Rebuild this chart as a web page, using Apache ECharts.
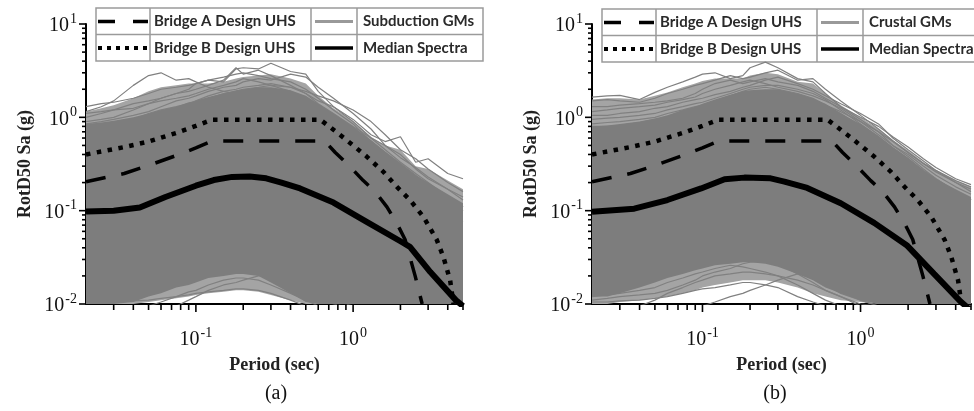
<!DOCTYPE html>
<html>
<head>
<meta charset="utf-8">
<script src="https://cdn.jsdelivr.net/npm/echarts@6/dist/echarts.min.js"></script>
<style>
  html, body { margin: 0; padding: 0; background: #fff; }
  #chart { width: 974px; height: 411px; }
</style>
</head>
<body>
<div id="chart"></div>
<script>
// ---- data ----
const periodGrid = [0.02, 0.025, 0.03, 0.04, 0.05, 0.06, 0.075, 0.09, 0.1, 0.12, 0.15, 0.18, 0.2, 0.25, 0.3, 0.4, 0.5, 0.6, 0.75, 1, 1.3, 1.6, 2, 2.5, 3, 4, 5];

// (a) subduction records: dense core, looser fringe, individual outer records
const subCoreUpper = [0.85, 0.88, 0.92, 1.0, 1.1, 1.2, 1.3, 1.45, 1.5, 1.65, 1.8, 1.95, 2.0, 2.1, 2.1, 1.95, 1.7, 1.4, 1.1, 0.8, 0.57, 0.43, 0.32, 0.24, 0.2, 0.15, 0.12];
const subCoreLower = [0.01, 0.01, 0.01, 0.0105, 0.012, 0.013, 0.015, 0.016, 0.017, 0.019, 0.02, 0.021, 0.021, 0.02, 0.017, 0.013, 0.0105, 0.01, 0.01, 0.01, 0.01, 0.01, 0.01, 0.01, 0.01, 0.01, 0.01];
const subFringeUpper = [1.15, 1.25, 1.35, 1.6, 1.9, 2.1, 2.2, 2.3, 2.3, 2.3, 2.4, 2.6, 2.7, 2.8, 2.9, 2.6, 2.3, 1.7, 1.25, 0.92, 0.62, 0.5, 0.45, 0.3, 0.28, 0.21, 0.17];
const subFringeLower = [0.01, 0.01, 0.01, 0.01, 0.0105, 0.011, 0.0115, 0.012, 0.0125, 0.013, 0.0135, 0.014, 0.014, 0.0135, 0.0125, 0.011, 0.01, 0.01, 0.01, 0.01, 0.01, 0.01, 0.01, 0.01, 0.01, 0.01, 0.01];
const subUpperRecords = [
  [1.15, 1.3, 1.5, 2.2, 2.8, 3.0, 2.5, 2.6, 2.4, 2.1, 1.9, 1.8, 1.7, 1.5, 1.4, 1.2, 1.0, 0.85, 0.7, 0.5, 0.35, 0.27, 0.2, 0.15, 0.12, 0.09, 0.075],
  [0.9, 0.95, 1.0, 1.2, 1.4, 1.6, 1.8, 2.0, 2.3, 2.5, 2.4, 3.3, 3.4, 3.3, 3.8, 3.1, 2.9, 1.9, 1.3, 0.9, 0.6, 0.45, 0.33, 0.25, 0.2, 0.14, 0.11],
  [0.7, 0.75, 0.8, 0.9, 1.0, 1.1, 1.2, 1.35, 1.5, 1.7, 1.9, 2.0, 2.1, 2.2, 2.3, 2.1, 1.8, 1.5, 1.3, 0.95, 0.65, 0.55, 0.62, 0.33, 0.36, 0.25, 0.22],
  [1.3, 1.4, 1.45, 1.6, 1.8, 2.0, 2.1, 2.2, 2.3, 2.5, 2.7, 2.9, 3.0, 2.8, 2.6, 2.4, 2.0, 1.6, 1.2, 0.85, 0.55, 0.42, 0.32, 0.24, 0.19, 0.14, 0.11],
  [1.0, 1.1, 1.2, 1.4, 1.5, 1.6, 1.8, 1.9, 2.0, 2.2, 2.5, 3.4, 2.9, 3.2, 2.8, 2.2, 1.8, 1.4, 1.1, 0.8, 0.6, 0.5, 0.4, 0.28, 0.22, 0.17, 0.13],
  [0.85, 0.9, 0.95, 1.05, 1.15, 1.3, 1.5, 1.6, 1.7, 1.9, 2.1, 2.2, 2.4, 2.6, 2.5, 2.9, 2.7, 2.1, 1.6, 1.1, 0.75, 0.5, 0.37, 0.29, 0.23, 0.17, 0.14],
  [0.8, 0.82, 0.85, 0.95, 1.1, 1.2, 1.3, 1.4, 1.5, 1.6, 1.8, 1.9, 2.0, 2.1, 2.2, 2.1, 1.9, 1.7, 1.5, 1.2, 0.9, 0.65, 0.45, 0.36, 0.28, 0.2, 0.16],
  [1.1, 1.15, 1.2, 1.25, 1.4, 1.5, 1.6, 1.7, 1.8, 2.0, 2.2, 2.4, 2.6, 2.4, 2.2, 1.9, 1.6, 1.3, 1.05, 0.75, 0.5, 0.38, 0.3, 0.22, 0.18, 0.13, 0.1]
];
const subLowerRecords = [
  [0.0105, 0.0105, 0.0105, 0.0108, 0.011, 0.0115, 0.012, 0.0125, 0.013, 0.0135, 0.014, 0.0145, 0.0145, 0.014, 0.013, 0.011, 0.0095],
  [null, null, null, null, 0.0095, 0.0105, 0.012, 0.0135, 0.014, 0.016, 0.018, 0.019, 0.019, 0.018, 0.016, 0.013, 0.011, 0.0095],
  [0.013, 0.013, 0.0135, 0.014, 0.015, 0.016, 0.018, 0.019, 0.02, 0.021, 0.022, 0.024, 0.025, 0.024, 0.022, 0.018, 0.014, 0.012, 0.01, 0.009],
  [null, null, null, null, null, null, 0.0095, 0.011, 0.012, 0.014, 0.016, 0.017, 0.018, 0.02, 0.021, 0.019, 0.016, 0.013, 0.011, 0.0095]
];
const subMedianPeriod = [0.02, 0.03, 0.044, 0.064, 0.1, 0.13, 0.17, 0.22, 0.28, 0.35, 0.46, 0.75, 1.22, 2, 2.3, 3.1, 4.5, 5];
const subMedianSa = [0.098, 0.1, 0.108, 0.14, 0.185, 0.213, 0.23, 0.232, 0.222, 0.2, 0.173, 0.122, 0.076, 0.047, 0.041, 0.022, 0.011, 0.0095];

// (b) crustal records
const crsCoreUpper = [0.8, 0.82, 0.85, 0.9, 0.97, 1.05, 1.2, 1.3, 1.4, 1.55, 1.75, 1.9, 1.95, 2.0, 2.0, 1.8, 1.6, 1.4, 1.1, 0.85, 0.63, 0.48, 0.37, 0.27, 0.22, 0.17, 0.14];
const crsCoreLower = [0.012, 0.012, 0.013, 0.015, 0.017, 0.019, 0.021, 0.023, 0.024, 0.026, 0.027, 0.028, 0.028, 0.027, 0.025, 0.021, 0.018, 0.015, 0.013, 0.011, 0.01, 0.01, 0.01, 0.01, 0.01, 0.01, 0.01];
const crsFringeUpper = [1.55, 1.6, 1.6, 1.55, 1.7, 1.85, 2.1, 2.3, 2.45, 2.6, 2.6, 2.6, 2.8, 3.0, 2.9, 2.4, 2.3, 1.8, 1.35, 1.0, 0.75, 0.57, 0.44, 0.33, 0.27, 0.21, 0.18];
const crsFringeLower = [0.01, 0.01, 0.0105, 0.011, 0.0115, 0.012, 0.013, 0.014, 0.015, 0.016, 0.017, 0.018, 0.018, 0.018, 0.017, 0.015, 0.013, 0.012, 0.011, 0.0105, 0.01, 0.01, 0.01, 0.01, 0.01, 0.01, 0.01];
const crsUpperRecords = [
  [1.65, 1.7, 1.72, 1.55, 1.85, 2.1, 2.4, 2.7, 2.9, 3.0, 2.6, 2.8, 3.4, 3.9, 3.4, 2.6, 2.4, 1.8, 1.3, 0.95, 0.7, 0.5, 0.38, 0.28, 0.22, 0.16, 0.13],
  [1.5, 1.55, 1.5, 1.45, 1.6, 1.8, 2.0, 2.2, 2.3, 2.5, 2.8, 2.6, 2.7, 3.0, 3.2, 2.5, 2.6, 2.0, 1.5, 1.05, 0.75, 0.56, 0.42, 0.32, 0.27, 0.21, 0.18],
  [1.3, 1.3, 1.35, 1.4, 1.45, 1.5, 1.6, 1.8, 2.0, 2.3, 2.5, 2.3, 2.4, 2.6, 2.4, 2.2, 1.9, 1.6, 1.3, 1.0, 0.8, 0.62, 0.48, 0.36, 0.29, 0.22, 0.19],
  [1.15, 1.2, 1.25, 1.3, 1.35, 1.45, 1.55, 1.65, 1.8, 2.0, 2.2, 2.4, 2.5, 2.3, 2.1, 1.9, 1.7, 1.5, 1.25, 0.9, 0.65, 0.5, 0.4, 0.3, 0.24, 0.18, 0.15],
  [1.05, 1.05, 1.1, 1.15, 1.25, 1.3, 1.45, 1.55, 1.6, 1.75, 1.9, 2.1, 2.2, 2.5, 2.7, 2.3, 2.0, 1.7, 1.4, 1.1, 0.85, 0.6, 0.45, 0.34, 0.27, 0.2, 0.16],
  [0.95, 0.98, 1.0, 1.05, 1.1, 1.2, 1.3, 1.4, 1.45, 1.6, 1.8, 2.0, 2.1, 2.2, 2.2, 2.0, 1.8, 1.55, 1.2, 0.85, 0.62, 0.47, 0.36, 0.27, 0.22, 0.16, 0.13],
  [0.85, 0.88, 0.9, 0.95, 1.0, 1.1, 1.2, 1.3, 1.35, 1.5, 1.7, 1.9, 2.0, 2.1, 2.0, 1.8, 1.6, 1.35, 1.1, 0.8, 0.58, 0.44, 0.33, 0.26, 0.21, 0.16, 0.13],
  [0.8, 0.8, 0.82, 0.88, 0.95, 1.0, 1.1, 1.2, 1.25, 1.4, 1.55, 1.7, 1.8, 1.9, 1.9, 1.75, 1.55, 1.35, 1.15, 0.9, 0.7, 0.55, 0.42, 0.32, 0.26, 0.2, 0.17]
];
const crsLowerRecords = [
  [0.0105, 0.0105, 0.0108, 0.011, 0.0115, 0.012, 0.013, 0.014, 0.0145, 0.015, 0.016, 0.017, 0.017, 0.016, 0.015, 0.012, 0.0105, 0.0095],
  [0.012, 0.0125, 0.013, 0.014, 0.015, 0.017, 0.019, 0.021, 0.022, 0.024, 0.026, 0.025, 0.024, 0.022, 0.02, 0.016, 0.013, 0.011, 0.0095],
  [0.011, 0.0115, 0.012, 0.0125, 0.013, 0.014, 0.016, 0.018, 0.02, 0.022, 0.024, 0.027, 0.028, 0.029, 0.027, 0.021, 0.017, 0.014, 0.012, 0.0095],
  [null, null, null, 0.0095, 0.011, 0.013, 0.015, 0.017, 0.018, 0.02, 0.021, 0.022, 0.022, 0.021, 0.02, 0.018, 0.016, 0.014, 0.012, 0.01, 0.0095],
  [null, null, null, null, null, null, null, null, 0.0095, 0.0105, 0.012, 0.013, 0.014, 0.016, 0.018, 0.021, 0.019, 0.016, 0.013, 0.011, 0.0095],
  [0.014, 0.014, 0.015, 0.016, 0.018, 0.02, 0.023, 0.025, 0.027, 0.029, 0.031, 0.033, 0.033, 0.031, 0.028, 0.024, 0.02, 0.017, 0.014, 0.011, 0.0095]
];
const crsMedianPeriod = [0.02, 0.037, 0.06, 0.098, 0.138, 0.184, 0.27, 0.33, 0.46, 0.75, 1.22, 1.98, 2.92, 4.3, 5];
const crsMedianSa = [0.0975, 0.105, 0.13, 0.173, 0.217, 0.226, 0.222, 0.205, 0.175, 0.12, 0.074, 0.042, 0.021, 0.0106, 0.0085];

// design spectra (same for both panels)
const bridgeAPeriod = [0.02, 0.035, 0.05, 0.075, 0.1, 0.126, 0.66, 0.77, 0.93, 1.16, 1.38, 1.64, 1.9, 2.14, 2.48, 2.75];
const bridgeASa = [0.204, 0.25, 0.305, 0.39, 0.47, 0.557, 0.557, 0.42, 0.31, 0.21, 0.16, 0.11, 0.073, 0.049, 0.02, 0.01];
const bridgeBPeriod = [0.02, 0.035, 0.05, 0.075, 0.1, 0.126, 0.62, 0.71, 0.91, 1.22, 1.56, 1.9, 2.3, 2.8, 3.4, 3.75, 4.14, 4.35];
const bridgeBSa = [0.40, 0.48, 0.55, 0.68, 0.81, 0.94, 0.94, 0.79, 0.57, 0.38, 0.26, 0.18, 0.13, 0.086, 0.049, 0.032, 0.018, 0.01];

// axis ticks
const xMajorTicks = [0.1, 1];
const xMinorTicks = [0.03, 0.04, 0.05, 0.06, 0.07, 0.08, 0.09, 0.2, 0.3, 0.4, 0.5, 0.6, 0.7, 0.8, 0.9, 2, 3, 4, 5];
const yMajorTicks = [0.01, 0.1, 1, 10];
const yMinorTicks = [0.02, 0.03, 0.04, 0.05, 0.06, 0.07, 0.08, 0.09, 0.2, 0.3, 0.4, 0.5, 0.6, 0.7, 0.8, 0.9, 2, 3, 4, 5, 6, 7, 8, 9];

const legendA = ['Bridge A Design UHS', 'Bridge B Design UHS', 'Subduction GMs', 'Median Spectra'];
const legendB = ['Bridge A Design UHS', 'Bridge B Design UHS', 'Crustal GMs', 'Median Spectra'];
const panelTags = ['(a)', '(b)'];

// ---- chart ----
const X_MIN = 0.02, X_MAX = 5, Y_MIN = 0.01, Y_MAX = 10;
const GM_CORE = '#7d7d7d', GM_FRINGE = '#a4a4a4', GM_LINE = '#808080';
const SERIF = '"Liberation Serif", "DejaVu Serif", serif';

const chart = echarts.init(document.getElementById('chart'));

function pairs(xs, ys) {
    return xs.map((x, i) => [x, ys[i]]).filter(p => p[1] != null);
}

function bandSeries(i, upper, lower, color, z) {
    return {
        type: 'custom', xAxisIndex: i, yAxisIndex: i, silent: true, z: z,
        data: [[periodGrid[0], lower[0]]],
        renderItem: (params, api) => {
            const top = periodGrid.map((t, k) => api.coord([t, upper[k]]));
            const bot = periodGrid.map((t, k) => api.coord([t, lower[k]])).reverse();
            return { type: 'polygon', shape: { points: top.concat(bot) }, style: { fill: color } };
        }
    };
}

function recordSeries(i, vals, z) {
    return {
        type: 'line', xAxisIndex: i, yAxisIndex: i, silent: true, z: z,
        data: pairs(periodGrid, vals), showSymbol: false, clip: true,
        lineStyle: { color: GM_LINE, width: 1.2 }
    };
}

function tickSeries(i, values, axis, len) {
    return {
        type: 'custom', xAxisIndex: i, yAxisIndex: i, silent: true, clip: false, z: 20,
        data: values.map(v => axis === 'x' ? [v, Y_MIN] : [X_MIN, v]),
        renderItem: (params, api) => {
            const p = api.coord([api.value(0), api.value(1)]);
            const shape = axis === 'x'
                ? { x1: p[0], y1: p[1], x2: p[0], y2: p[1] + len }
                : { x1: p[0] - len, y1: p[1], x2: p[0], y2: p[1] };
            return { type: 'line', shape, style: { stroke: '#000', lineWidth: 1.6 } };
        }
    };
}

function panelSeries(i, d) {
    const s = [
        bandSeries(i, d.fringeUpper, d.fringeLower, GM_FRINGE, 1),
        bandSeries(i, d.upper, d.lower, GM_CORE, 3)
    ];
    d.upperRecs.forEach(r => s.push(recordSeries(i, r, 2)));
    d.lowerRecs.forEach(r => s.push(recordSeries(i, r, 2)));
    s.push({
        type: 'line', xAxisIndex: i, yAxisIndex: i, silent: true, z: 5, showSymbol: false,
        data: pairs(bridgeBPeriod, bridgeBSa),
        lineStyle: { color: '#000', width: 4.5, type: [4.5, 6.5] }
    });
    s.push({
        type: 'line', xAxisIndex: i, yAxisIndex: i, silent: true, z: 5, showSymbol: false,
        data: pairs(bridgeAPeriod, bridgeASa),
        lineStyle: { color: '#000', width: 3.5, type: [20, 16] }
    });
    s.push({
        type: 'line', xAxisIndex: i, yAxisIndex: i, silent: true, z: 6, showSymbol: false,
        data: pairs(d.medT, d.medSa),
        lineStyle: { color: '#000', width: 6 }
    });
    s.push(tickSeries(i, xMajorTicks, 'x', 8));
    s.push(tickSeries(i, xMinorTicks, 'x', 6));
    s.push(tickSeries(i, yMajorTicks, 'y', 7));
    s.push(tickSeries(i, yMinorTicks, 'y', 4));
    return s;
}

const powLabel = v => {
    const e = Math.log10(v);
    if (Math.abs(e - Math.round(e)) > 1e-6) return '';
    return '{b|10}{s|' + Math.round(e) + '}';
};
const labelRich = {
    b: { fontFamily: SERIF, fontSize: 20, color: '#111', lineHeight: 24, verticalAlign: 'bottom' },
    s: { fontFamily: SERIF, fontSize: 14, color: '#111', verticalAlign: 'top', padding: [0, 0, 0, 1] }
};

function xAxisFor(i) {
    return {
        type: 'log', logBase: 10, gridIndex: i, min: X_MIN, max: X_MAX,
        name: 'Period (sec)', nameLocation: 'middle', nameGap: 52,
        nameTextStyle: { fontFamily: SERIF, fontSize: 18, fontWeight: 'bold', color: '#222' },
        axisLine: { onZero: false, lineStyle: { color: '#000', width: 2 } },
        axisTick: { show: false }, splitLine: { show: false },
        axisLabel: { formatter: powLabel, rich: labelRich, margin: 22, showMinLabel: true, showMaxLabel: true }
    };
}
function yAxisFor(i) {
    return {
        type: 'log', logBase: 10, gridIndex: i, min: Y_MIN, max: Y_MAX,
        name: 'RotD50 Sa (g)', nameLocation: 'middle', nameGap: 52,
        nameTextStyle: { fontFamily: SERIF, fontSize: 18, fontWeight: 'bold', color: '#222' },
        axisLine: { onZero: false, lineStyle: { color: '#000', width: 2 } },
        axisTick: { show: false }, splitLine: { show: false },
        axisLabel: { formatter: powLabel, rich: labelRich, margin: 9 }
    };
}

// legend drawn as a bordered table, like the figure
function legendTable(x0, y0, labels) {
    const w = 387, h = 53, rh = 26.5;
    const c1 = x0 + 54, c2 = x0 + 215, c3 = x0 + 261;
    const r1 = y0 + 13.5, r2 = y0 + 40;
    const edge = { stroke: '#9a9a9a', lineWidth: 1.5 };
    const font = 'bold 15px Lato, "Open Sans", sans-serif';
    return {
        type: 'group', z: 100, silent: true,
        children: [
            { type: 'rect', shape: { x: x0, y: y0, width: w, height: h }, style: Object.assign({ fill: '#fff' }, edge) },
            { type: 'line', shape: { x1: x0, y1: y0 + rh, x2: x0 + w, y2: y0 + rh }, style: edge },
            { type: 'line', shape: { x1: c1, y1: y0, x2: c1, y2: y0 + h }, style: edge },
            { type: 'line', shape: { x1: c2, y1: y0, x2: c2, y2: y0 + h }, style: edge },
            { type: 'line', shape: { x1: c3, y1: y0, x2: c3, y2: y0 + h }, style: edge },
            { type: 'line', shape: { x1: x0 + 2, y1: r1, x2: x0 + 52, y2: r1 }, style: { stroke: '#000', lineWidth: 3.5, lineDash: [17, 18] } },
            { type: 'line', shape: { x1: x0 + 2, y1: r2, x2: x0 + 51, y2: r2 }, style: { stroke: '#000', lineWidth: 4, lineDash: [4, 5] } },
            { type: 'line', shape: { x1: c2 + 4, y1: r1, x2: c3 - 4, y2: r1 }, style: { stroke: '#999', lineWidth: 3 } },
            { type: 'line', shape: { x1: c2 + 4, y1: r2, x2: c3 - 4, y2: r2 }, style: { stroke: '#000', lineWidth: 3.5 } },
            { type: 'text', style: { x: c1 + 4, y: r1, text: labels[0], font, fill: '#2a2a2a', verticalAlign: 'middle' } },
            { type: 'text', style: { x: c1 + 4, y: r2, text: labels[1], font, fill: '#2a2a2a', verticalAlign: 'middle' } },
            { type: 'text', style: { x: c3 + 6, y: r1, text: labels[2], font, fill: '#2a2a2a', verticalAlign: 'middle' } },
            { type: 'text', style: { x: c3 + 6, y: r2, text: labels[3], font, fill: '#2a2a2a', verticalAlign: 'middle' } }
        ]
    };
}

const tagStyle = { font: '20px ' + SERIF, fill: '#111', align: 'center', verticalAlign: 'middle' };

chart.setOption({
    animation: false,
    backgroundColor: '#fff',
    grid: [
        { left: 86, top: 24, width: 377, height: 280 },
        { left: 592, top: 24, width: 380, height: 280 }
    ],
    xAxis: [xAxisFor(0), xAxisFor(1)],
    yAxis: [yAxisFor(0), yAxisFor(1)],
    series: [].concat(
        panelSeries(0, {
            upper: subCoreUpper, lower: subCoreLower, fringeUpper: subFringeUpper, fringeLower: subFringeLower,
            upperRecs: subUpperRecords, lowerRecs: subLowerRecords, medT: subMedianPeriod, medSa: subMedianSa
        }),
        panelSeries(1, {
            upper: crsCoreUpper, lower: crsCoreLower, fringeUpper: crsFringeUpper, fringeLower: crsFringeLower,
            upperRecs: crsUpperRecords, lowerRecs: crsLowerRecords, medT: crsMedianPeriod, medSa: crsMedianSa
        })
    ),
    graphic: [
        legendTable(96, 8, legendA),
        legendTable(602, 9, legendB),
        { type: 'text', z: 100, style: Object.assign({ x: 276, y: 394, text: panelTags[0] }, tagStyle) },
        { type: 'text', z: 100, style: Object.assign({ x: 775, y: 394, text: panelTags[1] }, tagStyle) }
    ]
});
</script>
</body>
</html>
